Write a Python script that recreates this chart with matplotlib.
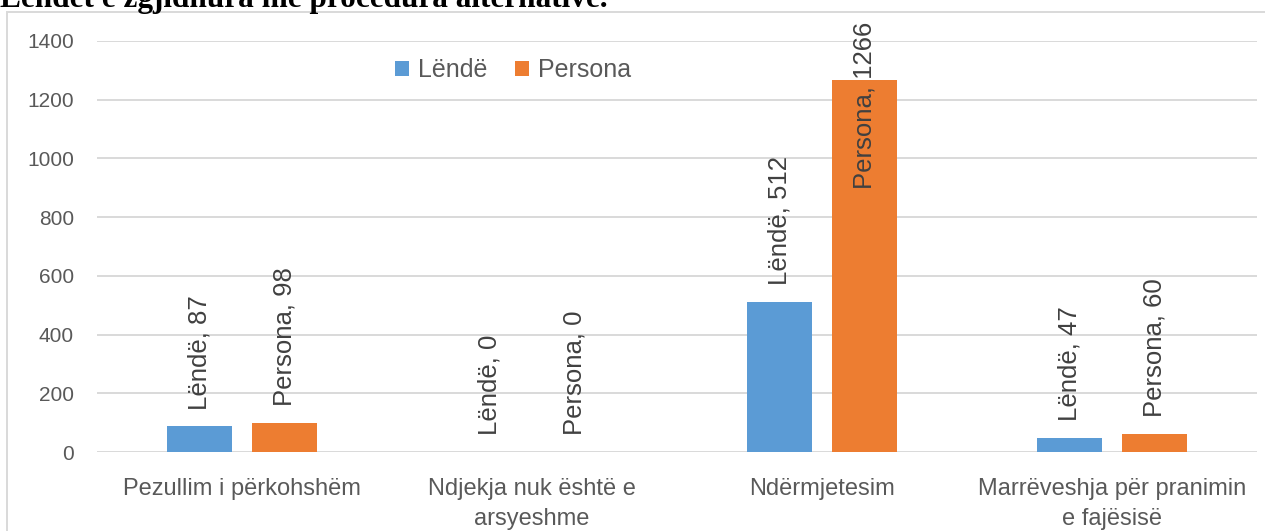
import matplotlib.pyplot as plt
import matplotlib.patches as mpatches
import numpy as np

# data
categories = ["Pezullim i përkohshëm", "Ndjekja nuk është e\narsyeshme",
              "Ndërmjetesim", "Marrëveshja për pranimin\ne fajësisë"]
lende = [87, 0, 512, 47]
persona = [98, 0, 1266, 60]
series_names = ["Lëndë", "Persona"]
title = "Lëndët e zgjidhura me procedura alternative."

blue = "#5B9BD5"
orange = "#ED7D31"
grid_col = "#D9D9D9"

plt.rcParams['font.family'] = ['Liberation Sans', 'DejaVu Sans']

W, H = 1265, 531
fig = plt.figure(figsize=(W/100, H/100), dpi=100)
ax = fig.add_axes([97/W, (H-452)/H, (1257-97)/W, (452-41)/H])

x = np.arange(len(categories))
bw = 0.224
off = 0.1466
b1 = ax.bar(x - off, lende, bw, color=blue, label=series_names[0], zorder=3)
b2 = ax.bar(x + off, persona, bw, color=orange, label=series_names[1], zorder=3)

ax.set_xlim(-0.5, len(categories) - 0.5)
ax.set_ylim(0, 1400)
ax.set_yticks(np.arange(0, 1401, 200))
ax.yaxis.grid(True, color=grid_col, lw=1.4, zorder=0)
for s in ax.spines.values():
    s.set_visible(False)
ax.tick_params(length=0)
ax.tick_params(axis='y', labelsize=15, labelcolor="#595959", pad=16.5)
ax.tick_params(axis='x', labelsize=17, labelcolor="#595959", pad=19)
ax.set_xticks(x)
ax.set_xticklabels(categories, linespacing=1.45)

# data labels
for bars, vals, name in [(b1, lende, series_names[0]), (b2, persona, series_names[1])]:
    for rect, v in zip(bars, vals):
        cx = rect.get_x() + rect.get_width() / 2
        txt = f"{name}, {v}"
        if v > 1000:
            # label pushed down to stay inside the chart area
            ax.annotate(txt, (cx, 1400), xytext=(0, 13.7), textcoords='offset points',
                        rotation=90, ha='center', va='top', fontsize=18.5,
                        color="#404040", annotation_clip=False, zorder=4)
        else:
            ax.annotate(txt, (cx, v), xytext=(0, 12.2), textcoords='offset points',
                        rotation=90, ha='center', va='bottom', fontsize=18.5,
                        color="#404040", zorder=4)

fig.legend(handles=[b1, b2], labels=series_names, loc='center',
           bbox_to_anchor=(513/W, 1 - 70/H), ncol=2, frameon=False,
           fontsize=18, labelcolor="#595959", handlelength=0.56, handleheight=0.56,
           handletextpad=0.36, columnspacing=1.08)

# chart area border (extends past the image edges)
fig.patches.append(mpatches.Rectangle((7/W, -0.1), 1.2, (H-12)/H + 0.1,
                                      transform=fig.transFigure, fill=False,
                                      edgecolor=grid_col, lw=1.4))

# title sits partly above the top edge, as in the source image
fig.text(0, 1 - 7/H, title, family='Liberation Serif', fontweight='bold',
         fontsize=22.5, va='baseline', ha='left', color='black')

fig.savefig("out.png", dpi=100)
